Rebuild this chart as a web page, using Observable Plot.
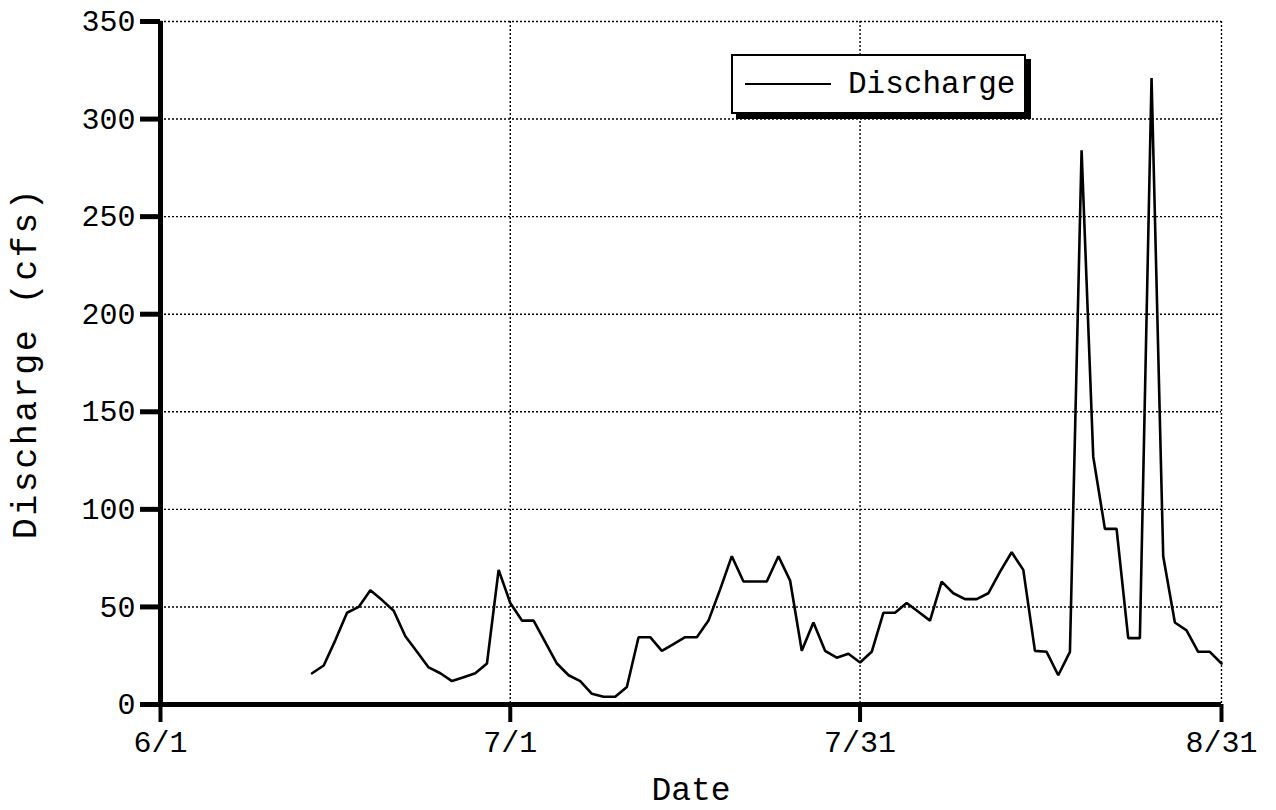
<!DOCTYPE html>
<html>
<head>
<meta charset="utf-8">
<script src="https://cdn.jsdelivr.net/npm/d3@7"></script>
<script src="https://cdn.jsdelivr.net/npm/@observablehq/plot@0.6"></script>
<style>
  html, body { margin: 0; padding: 0; background: #fff; }
  #wrap { position: relative; width: 1276px; height: 810px; }
  #legend {
    position: absolute; left: 731px; top: 54px; width: 291px; height: 56px;
    border: 2px solid #000; box-shadow: 5px 5px 0 #000; background: #fff;
    font-family: "Liberation Mono", monospace; font-size: 31px; color: #000;
    display: flex; align-items: center; box-sizing: content-box;
  }
  #legend .swatch { width: 86px; height: 0; border-top: 2px solid #000; margin-left: 12px; margin-right: 17px; }
</style>
</head>
<body>
<div id="wrap"><div id="chart"></div>
<div id="legend"><div class="swatch"></div><span id="legendLabel"></span></div></div>
<script>
// ---- data ----
const seriesName = "Discharge";
const firstDate = new Date(Date.UTC(2001, 5, 14)); // 6/14
const discharge = [
  16, 20, 33, 47, 50, 58.5, 53.5, 48, 35, 27,     // 6/14 - 6/23
  19, 16, 12, 14, 16, 21, 69, 52, 43, 43,         // 6/24 - 7/3
  32, 21, 15, 12, 5.5, 4, 4, 9, 34.5, 34.5,       // 7/4 - 7/13
  27.5, 31, 34.5, 34.5, 43, 59, 76, 63, 63, 63,   // 7/14 - 7/23
  76, 63.5, 27.5, 42, 27.5, 24, 26, 21.5, 27, 47, // 7/24 - 8/2
  47, 52, 47.5, 43, 63, 57, 54, 54, 57, 68,       // 8/3 - 8/12
  78, 69, 27.5, 27, 15, 27, 284, 127, 90, 90,     // 8/13 - 8/22
  34, 34, 321, 76, 42, 38, 27, 27, 21             // 8/23 - 8/31
];
const xDomain = [new Date(Date.UTC(2001, 5, 1)), new Date(Date.UTC(2001, 7, 31))];
const xTickDates = [new Date(Date.UTC(2001, 5, 1)), new Date(Date.UTC(2001, 6, 1)), new Date(Date.UTC(2001, 6, 31)), new Date(Date.UTC(2001, 7, 31))];
const xTickLabels = ["6/1", "7/1", "7/31", "8/31"];
const yTicks = [0, 50, 100, 150, 200, 250, 300, 350];
const xTitle = "Date";
const yTitle = "Discharge (cfs)";

const rows = discharge.map((v, i) => ({date: d3.utcDay.offset(firstDate, i), value: v}));

const chart = Plot.plot({
  width: 1276,
  height: 810,
  marginLeft: 160,
  marginRight: 55,
  marginTop: 21,
  marginBottom: 106,
  style: {fontFamily: "'Liberation Mono', monospace", fontSize: "30px", color: "#000", background: "#fff"},
  x: {type: "utc", domain: xDomain},
  y: {domain: [0, 350]},
  marks: [
    Plot.gridY(yTicks.slice(1), {stroke: "#000", strokeOpacity: 1, strokeWidth: 1.4, strokeDasharray: "2,2"}),
    Plot.gridX(xTickDates.slice(1), {stroke: "#000", strokeOpacity: 1, strokeWidth: 1.4, strokeDasharray: "2,2"}),
    Plot.lineY(rows, {x: "date", y: "value", stroke: "#000", strokeWidth: 2.6, strokeLinejoin: "miter"}),
    Plot.ruleY([0], {stroke: "#000", strokeWidth: 5}),
    Plot.ruleX([xDomain[0]], {stroke: "#000", strokeWidth: 5}),
    Plot.axisY({ticks: yTicks, tickSize: 20, tickPadding: 5, strokeWidth: 5, label: null}),
    Plot.axisX({ticks: xTickDates, tickFormat: (d, i) => xTickLabels[i], tickSize: 18, tickPadding: 8, strokeWidth: 4, label: null}),
    Plot.text([yTitle], {frameAnchor: "left", dx: -136, rotate: -90, textAnchor: "middle", lineAnchor: "middle", fontSize: 35, className: "ytitle"}),
    Plot.text([xTitle], {frameAnchor: "bottom", dy: 85, textAnchor: "middle", lineAnchor: "middle", fontSize: 33})
  ]
});
d3.select(chart).selectAll(".ytitle text").style("letter-spacing", "2.5px");
document.getElementById("chart").appendChild(chart);
document.getElementById("legendLabel").textContent = seriesName;
</script>
</body>
</html>
